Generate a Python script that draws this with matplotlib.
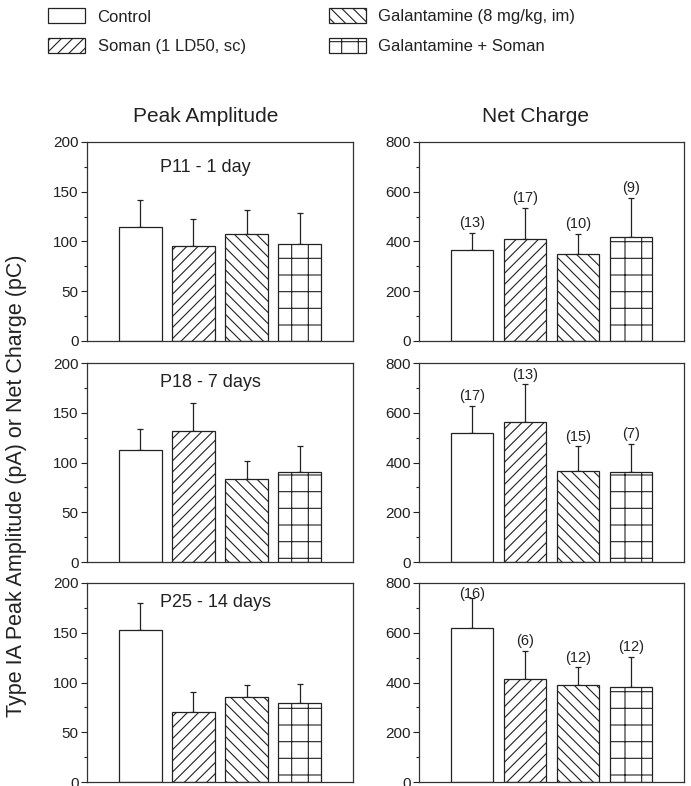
import numpy as np
import matplotlib
matplotlib.use("Agg")
import matplotlib.pyplot as plt
from matplotlib.patches import Patch

plt.rcParams['font.family'] = ['Liberation Sans', 'DejaVu Sans']
plt.rcParams['hatch.linewidth'] = 0.8
plt.rcParams['hatch.color'] = '#222222'

# data
groups = ["Control", "Soman (1 LD50, sc)", "Galantamine (8 mg/kg, im)", "Galantamine + Soman"]
hatches = ["", "///", "\\\\\\", "+"]
ages = ["P11 - 1 day", "P18 - 7 days", "P25 - 14 days"]

amp_mean = [[115, 95, 108, 97],
            [113, 132, 83, 90],
            [153, 70, 85.5, 79]]
amp_sem = [[27, 27.5, 24, 32],
           [21, 28, 19, 26.5],
           [27, 20, 11.5, 19]]

chg_mean = [[366, 409, 349, 419],
            [520, 564, 366, 361],
            [618, 413, 388, 380]]
chg_sem = [[70, 126, 82, 156],
           [108, 150, 99, 115],
           [120, 114, 73, 123]]

n_cells = [[13, 17, 10, 9],
           [17, 13, 15, 7],
           [16, 6, 12, 12]]

W, H = 691, 786
fig = plt.figure(figsize=(W / 100, H / 100), dpi=100)

ink = '#222222'
x = np.arange(1, 5)
tops = [142, 363, 583]
ph = 199


def style(ax, ymax, step):
    ax.set_xlim(0, 5)
    ax.set_ylim(0, ymax)
    ax.set_xticks([])
    ax.set_yticks(np.arange(0, ymax + 1, step))
    ax.set_yticks(np.arange(step / 2, ymax, step), minor=True)
    ax.tick_params(axis='y', which='major', length=4, width=0.8, color=ink,
                   labelsize=11, labelcolor=ink, pad=2)
    ax.tick_params(axis='y', which='minor', length=2.2, width=0.8, color=ink)
    for s in ax.spines.values():
        s.set_linewidth(0.9)
        s.set_color('#333333')


def bars(ax, mean, sem):
    for i in range(4):
        ax.bar(x[i], mean[i], width=0.81, facecolor='white', edgecolor=ink,
               linewidth=0.9, hatch=hatches[i], zorder=2)
    ax.errorbar(x, mean, yerr=[np.zeros(4), sem], fmt='none', ecolor=ink,
                elinewidth=0.9, capsize=2, capthick=0.9, zorder=1)


for r in range(3):
    bottom = 1 - (tops[r] + ph) / H
    axl = fig.add_axes([87 / W, bottom, 266 / W, ph / H])
    axr = fig.add_axes([419 / W, bottom, 265 / W, ph / H])

    bars(axl, amp_mean[r], amp_sem[r])
    style(axl, 200, 50)
    axl.text(0.275, 0.87 if r == 0 else 0.9, ages[r], transform=axl.transAxes,
             ha='left', va='center', fontsize=13, color=ink)

    bars(axr, chg_mean[r], chg_sem[r])
    style(axr, 800, 200)
    for i in range(4):
        top = chg_mean[r][i] + chg_sem[r][i]
        y = min(top + 800 * 0.048, 800 * 0.944)
        axr.text(x[i], y, "(%d)" % n_cells[r][i], ha='center', va='center',
                 fontsize=10.5, color=ink)

fig.text(206 / W, 1 - 116 / H, "Peak Amplitude", ha='center', va='center',
         fontsize=15, color=ink)
fig.text(536 / W, 1 - 116 / H, "Net Charge", ha='center', va='center',
         fontsize=15, color=ink)
fig.text(17 / W, 1 - 486 / H, "Type IA Peak Amplitude (pA) or Net Charge (pC)",
         rotation=90, ha='center', va='center', fontsize=15.5, color=ink)

handles = [Patch(facecolor='white', edgecolor=ink, linewidth=0.9, hatch=h)
           for h in hatches]
fig.legend(handles, groups, ncol=2, loc='upper left',
           bbox_to_anchor=(40 / W, 1.0), frameon=False, borderpad=0,
           fontsize=12, handlelength=2.2, handleheight=1.0,
           handletextpad=0.75, labelspacing=0.8, columnspacing=5.0,
           labelcolor=ink)

fig.savefig("out.png", dpi=100)
